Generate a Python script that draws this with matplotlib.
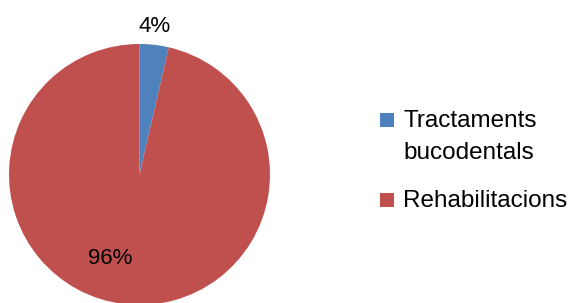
import matplotlib
matplotlib.use("Agg")
import matplotlib.pyplot as plt
from matplotlib.patches import Rectangle

categories = ["Tractaments\nbucodentals", "Rehabilitacions"]
values = [3.6, 96.4]
pct_labels = ["4%", "96%"]
colors = ["#4F81BD", "#C0504D"]

plt.rcParams['font.family'] = ['Liberation Sans', 'DejaVu Sans']

W, H = 569, 303
fig = plt.figure(figsize=(W / 100, H / 100), dpi=100)
cx, cy, r = 139.5, 174.5, 130.5
ax = fig.add_axes([(cx - r) / W, (H - cy - r) / H, 2 * r / W, 2 * r / H])
wedges, _ = ax.pie(values, colors=colors, startangle=90, counterclock=False,
                   radius=1.0, wedgeprops=dict(linewidth=0))
ax.set_xlim(-1, 1)
ax.set_ylim(-1, 1)
ax.set_aspect('equal')
ax.axis('off')

# percent labels: pixel positions (centre x, baseline y)
label_px = [(155, 32), (110, 264)]
for (x, y), t in zip(label_px, pct_labels):
    fig.text(x / W, (H - y) / H, t, ha='center', va='baseline', fontsize=16, color='black')

# legend
sq = 14
entries_base = [127, 207]
line_gap = 32
for (yb, lab, col) in zip(entries_base, categories, colors):
    fig.patches.append(Rectangle((380 / W, (H - yb) / H), sq / W, sq / H,
                                 transform=fig.transFigure, facecolor=col, edgecolor='none'))
    for i, line in enumerate(lab.split("\n")):
        fig.text(403 / W, (H - yb - i * line_gap) / H, line, ha='left', va='baseline',
                 fontsize=17.5, color='black')

fig.savefig("out.png", dpi=100)
